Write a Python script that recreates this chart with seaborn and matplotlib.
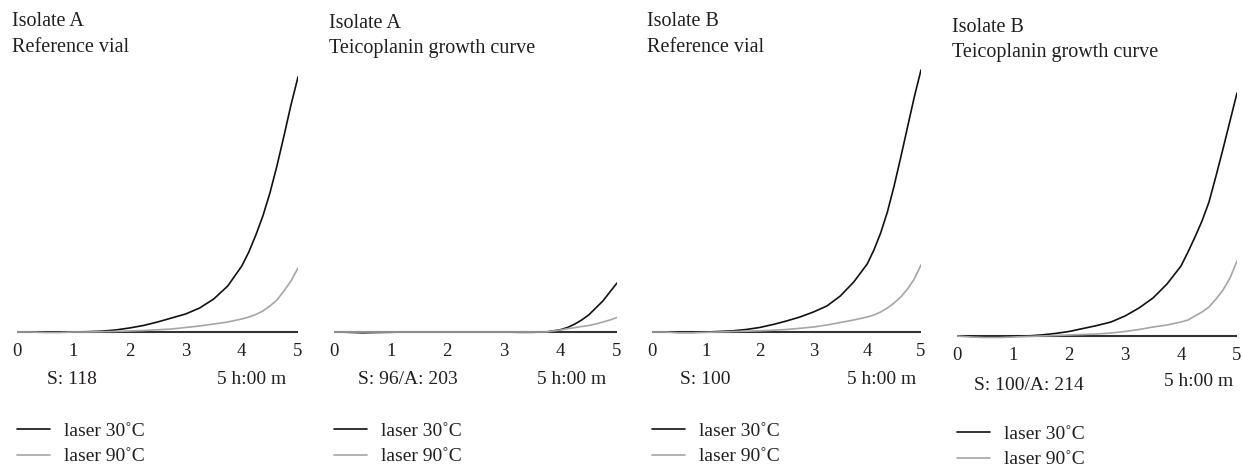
import numpy as np
import pandas as pd
import seaborn as sns
import matplotlib
matplotlib.use("Agg")
import matplotlib.pyplot as plt

# ---------------- data ----------------
time_h = [0, 0.25, 0.5, 0.75, 1, 1.25, 1.5, 1.75, 2, 2.25, 2.5, 2.75,
          3, 3.25, 3.5, 3.75, 4, 4.125, 4.25, 4.375, 4.5, 4.625, 4.75, 4.875, 5]
tick_labels = ["0", "1", "2", "3", "4", "5"]
series_names = ["laser 30\u02daC", "laser 90\u02daC"]

titles = [("Isolate A", "Reference vial"),
          ("Isolate A", "Teicoplanin growth curve"),
          ("Isolate B", "Reference vial"),
          ("Isolate B", "Teicoplanin growth curve")]
counts = ["S: 118", "S: 96/A: 203", "S: 100", "S: 100/A: 214"]
duration = "5 h:00 m"

a_ref_30 = [0, 0, 0, 0, 0, 0.3, 0.8, 2, 4, 6.5, 10, 14, 18, 24, 33, 46, 66,
            80, 97, 116, 139, 166, 196, 227, 255]
a_ref_90 = [0, 0, -0.5, -0.5, 0, 0, 0.3, 0.6, 1, 1.5, 2.2, 3, 4.5, 6, 8, 10, 13,
            15, 17.5, 21, 26, 32, 41, 51, 64]
a_tei_30 = [0, -0.3, -0.8, -0.5, -0.3, 0, 0, 0, 0, 0, 0, 0, 0, -0.3, -0.3, 0, 2.3,
            4.5, 7.8, 12, 17, 24, 31, 40, 49]
a_tei_90 = [0, 0, 0, 0, 0, 0, 0, 0, 0, 0, 0, 0, 0, 0, 0, 0, 2,
            3.3, 4.3, 5.5, 6.5, 8, 10, 12, 14.5]
b_ref_30 = [0, 0, -0.3, -0.3, 0, 0.5, 1.2, 2.5, 4.5, 7.5, 11, 15, 20, 26, 36, 50, 68,
            82, 99, 120, 146, 175, 205, 235, 262]
b_ref_90 = [0, 0, -0.8, -0.8, -0.3, 0, 0.5, 0.8, 1.2, 1.8, 2.5, 3.7, 5, 7, 9.5, 12, 15,
            17, 20, 24, 29, 35, 43, 53, 67]
b_tei_30 = [0, -0.3, -0.5, -0.5, -0.3, 0, 1, 2.5, 4.5, 7.5, 10.5, 14, 20, 28, 38, 52, 70,
            84, 99, 115, 134, 160, 187, 215, 243]
b_tei_90 = [0, -1, -1.5, -1.5, -1, -0.5, 0, 0.5, 1, 1.5, 2, 3, 4.5, 6.5, 9, 11, 14,
            16, 20, 24, 29, 37, 46, 58, 75]

panels = [(a_ref_30, a_ref_90), (a_tei_30, a_tei_90),
          (b_ref_30, b_ref_90), (b_tei_30, b_tei_90)]

# ---------------- layout (pixels) ----------------
W, H = 1243, 467
sns.set_theme(style="white")
plt.rcParams["font.family"] = ["Liberation Serif", "DejaVu Serif"]
TXT = "#231f20"

fig = plt.figure(figsize=(W / 100, H / 100), dpi=100)

# left, right, axis-line y
boxes = [(17, 298, 332), (334, 617, 332), (652, 921, 332), (957, 1237, 336)]
title_pos = [(12, 22, 47), (329, 24, 48), (647, 22, 47), (952, 27, 52)]
count_pos = [(47, 380), (358, 380), (680, 380), (974, 385)]
dur_pos = [(286, 380), (606, 380), (916, 380), (1233, 382)]
legend_pos = [(17, 430), (334, 430), (652, 430), (957, 433)]

YMIN, YMAX = -8, 272
palette = {series_names[0]: "#111111", series_names[1]: "#a6a6a6"}

def fx(x):
    return x / W

def fy(y):
    return 1 - y / H

for i, (s30, s90) in enumerate(panels):
    l, r, y0 = boxes[i]
    top = y0 - YMAX
    bottom = y0 - YMIN
    ax = fig.add_axes([fx(l), fy(bottom), (r - l) / W, (bottom - top) / H])
    df = pd.DataFrame({
        "time": time_h * 2,
        "value": list(s30) + list(s90),
        "series": [series_names[0]] * len(time_h) + [series_names[1]] * len(time_h),
    })
    ax.axhline(0, color="#333333", lw=1.5, zorder=1)
    sns.lineplot(data=df, x="time", y="value", hue="series", palette=palette,
                 hue_order=series_names, ax=ax, lw=1.2, zorder=3, legend=True)
    ax.set_xlim(0, 5)
    ax.set_ylim(YMIN, YMAX)
    for s in ax.spines.values():
        s.set_visible(False)
    ax.set_yticks([])
    ax.set_xticks(range(6))
    ax.set_xticklabels(tick_labels, fontsize=13.5, color=TXT)
    ax.tick_params(axis="x", length=0, pad=2.5)
    ax.set_xlabel("")
    ax.set_ylabel("")
    ax.patch.set_alpha(0)

    lx, ly = legend_pos[i]
    leg = ax.legend(loc="upper left", bbox_to_anchor=(fx(lx), fy(ly - 8)),
                    bbox_transform=fig.transFigure, frameon=False,
                    fontsize=14, handlelength=1.7, handletextpad=0.72,
                    labelspacing=0.42, borderpad=0, borderaxespad=0)
    for t in leg.get_texts():
        t.set_color(TXT)
    for ln in leg.get_lines():
        ln.set_linewidth(1.2)

    tx, ty1, ty2 = title_pos[i]
    fig.text(fx(tx), fy(ty1), titles[i][0], fontsize=14.5, color=TXT, va="center", ha="left")
    fig.text(fx(tx), fy(ty2), titles[i][1], fontsize=14.5, color=TXT, va="center", ha="left")
    cx, cy = count_pos[i]
    fig.text(fx(cx), fy(cy), counts[i], fontsize=14, color=TXT, va="center", ha="left")
    dx, dy = dur_pos[i]
    fig.text(fx(dx), fy(dy), duration, fontsize=14, color=TXT, va="center", ha="right")

fig.savefig("out.png", dpi=100)
